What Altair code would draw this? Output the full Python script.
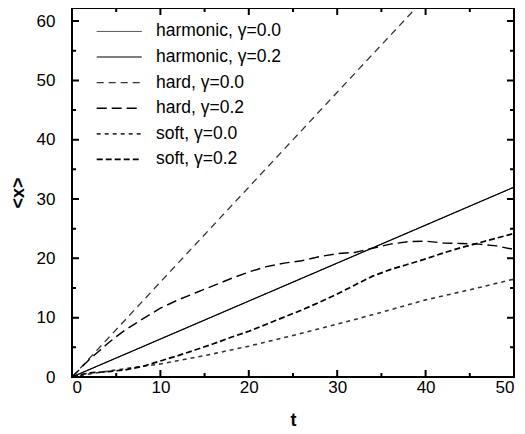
import altair as alt
import pandas as pd

series = ["harmonic, γ=0.0", "harmonic, γ=0.2", "hard, γ=0.0",
          "hard, γ=0.2", "soft, γ=0.0", "soft, γ=0.2"]

t_harm = [0, 10, 20, 30, 40, 50]
harm_g0 = [0, 6.4, 12.8, 19.2, 25.6, 32.0]
harm_g2 = [0, 6.4, 12.8, 19.2, 25.6, 32.0]

t_hard0 = [0, 10, 20, 30, 38.9]
hard_g0 = [0, 16, 32, 48, 62.2]

t_hard2 = [0, 1, 2, 3, 4, 5, 6, 8, 10, 12, 14, 16, 18, 20, 22, 24, 26, 28,
           30, 32, 34, 36, 38, 40, 42, 44, 46, 48, 50]
hard_g2 = [0, 1.5, 3.0, 4.3, 5.6, 6.8, 7.9, 9.8, 11.6, 13.0, 14.2, 15.4, 16.6,
           17.7, 18.6, 19.2, 19.6, 20.3, 20.8, 21.0, 21.7, 22.4, 22.8, 22.9,
           22.6, 22.5, 22.4, 22.1, 21.5]

t_soft0 = [0, 2, 5, 10, 15, 20, 25, 30, 35, 40, 45, 50]
soft_g0 = [0, 0.5, 1.2, 2.2, 3.6, 5.2, 7.0, 8.9, 10.9, 13.0, 14.7, 16.5]

t_soft2 = [0, 1, 2, 4, 6, 8, 10, 12, 14, 16, 18, 20, 22, 24, 26, 28, 30, 32,
           34, 36, 38, 40, 42, 44, 46, 48, 50]
soft_g2 = [0, 0.4, 0.7, 0.9, 1.2, 1.8, 2.7, 3.6, 4.6, 5.6, 6.7, 7.7, 8.9, 10.1,
           11.3, 12.6, 14.0, 15.5, 17.0, 18.1, 19.0, 19.9, 20.9, 21.8, 22.6,
           23.4, 24.2]

x_ticks = [0, 5, 10, 15, 20, 25, 30, 35, 40, 45, 50]
y_ticks = [0, 5, 10, 15, 20, 25, 30, 35, 40, 45, 50, 55, 60]

colors = ["#333333", "#000000", "#333333", "#000000", "#333333", "#000000"]
dashes = [[1, 0], [1, 0], [7, 5], [10, 5], [4, 4], [6, 3]]
widths = [1, 2, 1, 2.5, 1, 2.5]

W, H = 442, 369
T_MAX, V_MAX = 50, 62.2
FONT = "Liberation Sans"

rows = []
for name, ts, vs in [(series[0], t_harm, harm_g0), (series[1], t_harm, harm_g2),
                     (series[2], t_hard0, hard_g0), (series[3], t_hard2, hard_g2),
                     (series[4], t_soft0, soft_g0), (series[5], t_soft2, soft_g2)]:
    for i, (t, v) in enumerate(zip(ts, vs)):
        rows.append({"s": name, "seg": name, "k": i, "t": t, "v": v})

# frame and inward ticks as two-point segments through the same scales
def seg(kind, name, p0, p1):
    rows.append({"s": kind, "seg": name, "k": 0, "t": p0[0], "v": p0[1]})
    rows.append({"s": kind, "seg": name, "k": 1, "t": p1[0], "v": p1[1]})

seg("frame", "fb", (0, 0), (T_MAX, 0))
seg("frame", "fr", (T_MAX, 0), (T_MAX, V_MAX))
seg("frame", "ft", (T_MAX, V_MAX), (0, V_MAX))
seg("frame", "fl", (0, V_MAX), (0, 0))
for tv in x_ticks:
    ln = (7 if tv % 10 == 0 else 4) * V_MAX / H
    seg("tick", f"xb{tv}", (tv, 0), (tv, ln))
    seg("tick", f"xt{tv}", (tv, V_MAX), (tv, V_MAX - ln))
for vv in y_ticks:
    ln = (7 if vv % 10 == 0 else 4) * T_MAX / W
    seg("tick", f"yl{vv}", (0, vv), (ln, vv))
    seg("tick", f"yr{vv}", (T_MAX, vv), (T_MAX - ln, vv))
df = pd.DataFrame(rows)

dom = series + ["frame", "tick"]
col_r = colors + ["#000000", "#000000"]
dash_r = dashes + [[1, 0], [1, 0]]
width_r = widths + [2, 1.5]

leg = alt.Legend(title=None, orient="none", legendX=38.5, legendY=14.7,
                 values=series,
                 symbolType="M-4,0H4", symbolSize=127, labelFontSize=17.5,
                 labelFont=FONT, labelColor="black", labelOffset=28,
                 rowPadding=6.6, padding=0, symbolFillColor="transparent")

xs = alt.Scale(domain=[0, T_MAX], nice=False, zero=False)
ys = alt.Scale(domain=[0, V_MAX], nice=False, zero=False)

major_only = "datum.value % 10 === 0 ? datum.label : ''"

common = dict(ticks=False, domain=False, grid=False,
              labelFontSize=17, labelFont=FONT, labelColor="black",
              titleFont=FONT, titleFontSize=18, titleFontWeight="bold",
              titleColor="black", titleBaseline="middle")

x_bottom = alt.Axis(orient="bottom", values=x_ticks, labelExpr=major_only,
                    title="t", labelPadding=2, titleY=43, **common)
y_left = alt.Axis(orient="left", values=y_ticks, labelExpr=major_only,
                  title="<x>", labelPadding=17, titleX=-54, titleY=H / 2, **common)

chart = alt.Chart(df).mark_line(clip=False).encode(
    x=alt.X("t:Q", scale=xs, axis=x_bottom),
    y=alt.Y("v:Q", scale=ys, axis=y_left),
    color=alt.Color("s:N", scale=alt.Scale(domain=dom, range=col_r), legend=leg),
    strokeDash=alt.StrokeDash("s:N", scale=alt.Scale(domain=dom, range=dash_r), legend=leg),
    strokeWidth=alt.StrokeWidth("s:N", scale=alt.Scale(domain=dom, range=width_r), legend=leg),
    detail="seg:N",
    order=alt.Order("k:Q"),
).properties(
    width=W, height=H,
    autosize=alt.AutoSizeParams(type="none"),
    padding={"left": 64, "top": 0, "right": 3, "bottom": 55},
).configure_view(stroke="#000000", strokeWidth=2)

chart.save("out.html", embed_options={"renderer": "svg", "actions": False})
